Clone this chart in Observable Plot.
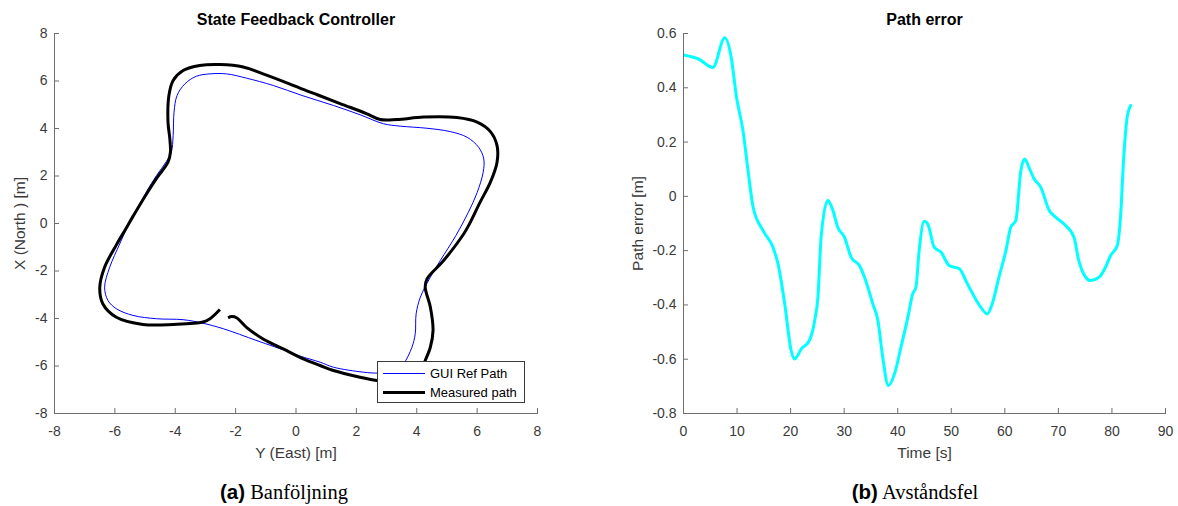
<!DOCTYPE html>
<html><head><meta charset="utf-8">
<script src="https://cdn.jsdelivr.net/npm/d3@7"></script>
<script src="https://cdn.jsdelivr.net/npm/@observablehq/plot@0.6"></script>
<style>
body{margin:0;background:#fff;}
#wrap{position:relative;width:1178px;height:506px;overflow:hidden;font-family:"Liberation Sans",Arial,sans-serif;}
.panel{position:absolute;top:0;}
.cap{position:absolute;top:482px;line-height:1;font-size:20.5px;text-align:center;font-family:"Liberation Serif","Times New Roman",serif;color:#000;white-space:nowrap;}
.cap b{font-family:"Liberation Sans",Arial,sans-serif;font-weight:bold;}
#legend{position:absolute;left:377px;top:361px;width:146px;height:40px;border:1px solid #3a3a3a;background:#fff;}
.sw{position:absolute;left:5px;width:42px;}
.lt{position:absolute;left:52px;font-size:13px;line-height:1;color:#000;white-space:nowrap;}
</style>
</head><body>
<div id="wrap">
  <div id="left" class="panel" style="left:0"></div>
  <div id="right" class="panel" style="left:590px"></div>
  <div id="legend">
    <div class="sw" style="top:11px;height:1px;background:#0000ff"></div>
    <div class="lt" style="top:5px">GUI Ref Path</div>
    <div class="sw" style="top:29px;height:3px;background:#000"></div>
    <div class="lt" style="top:24px">Measured path</div>
  </div>
  <div class="cap" style="left:0;width:568px"><b>(a)</b> Banföljning</div>
  <div class="cap" style="left:652px;width:526px"><b>(b)</b> Avståndsfel</div>
</div>
<script>
// GUI reference path (East, North) [m]
const refEast  = [-2.41,-1.3,-0.2,0.13,0.8,1.24,2.23,2.73,3.23,3.56,3.84,3.95,3.98,4.12,4.45,4.78,5.3,5.7,6.0,6.2,6.22,6.05,5.67,5.11,4.34,3.45,2.9,2.12,1.24,0.2,-0.75,-1.64,-2.3,-2.85,-3.3,-3.68,-3.94,-4.04,-4.07,-4.13,-4.3,-4.62,-4.96,-5.4,-5.51,-5.84,-6.17,-6.34,-6.23,-5.95,-5.4,-4.62,-3.74,-3.08];
const refNorth = [-4.43,-4.93,-5.42,-5.58,-5.84,-6.05,-6.26,-6.3,-6.26,-5.91,-5.21,-4.64,-3.8,-3.1,-2.26,-1.56,-0.5,0.45,1.3,2.16,2.72,3.21,3.63,3.87,4.01,4.1,4.2,4.58,4.97,5.39,5.81,6.12,6.3,6.3,6.2,5.88,5.39,4.69,3.7,3.0,2.6,2.02,1.32,0.27,0.05,-0.86,-1.84,-2.68,-3.24,-3.59,-3.87,-4.01,-4.05,-4.2];
// Measured path (East, North) [m]
const measEast  = [-2.25,-2.13,-1.97,-1.64,-1.09,-0.42,0.24,0.8,1.24,2.12,2.68,3.2,3.7,4.1,4.28,4.45,4.54,4.45,4.28,4.34,4.89,5.56,5.72,6.1,6.44,6.66,6.66,6.44,6.0,5.33,4.23,3.34,2.79,2.35,1.46,0.75,0.13,-0.2,-1.09,-1.75,-2.52,-3.19,-3.74,-4.07,-4.21,-4.24,-4.18,-4.16,-4.24,-4.62,-5.0,-5.4,-5.65,-5.95,-6.34,-6.5,-6.4,-5.95,-5.07,-4.07,-3.08,-2.85,-2.52];
const measNorth = [-3.97,-3.92,-3.97,-4.37,-4.86,-5.28,-5.7,-5.98,-6.19,-6.47,-6.61,-6.68,-6.6,-6.3,-5.77,-5.21,-4.5,-3.52,-2.68,-2.33,-1.56,-0.43,-0.08,0.9,1.74,2.58,3.28,3.87,4.27,4.46,4.48,4.38,4.38,4.62,5.05,5.4,5.7,5.87,6.3,6.59,6.69,6.65,6.44,6.02,5.39,4.27,3.57,3.0,2.58,1.9,1.15,0.3,-0.25,-0.9,-1.84,-2.68,-3.38,-3.95,-4.25,-4.25,-4.15,-4.01,-3.62];
// Path error over time
const timeS   = [0.25,2.7,5.5,7.7,8.9,9.9,11.1,12.05,13.0,14.85,16.7,17.65,18.9,20.1,20.75,22,23.5,24.5,25.1,25.7,26.95,27.9,28.8,30.05,31.3,32.85,33.8,35.35,36.3,37.2,38.25,39.4,40.6,41.9,42.8,43.4,44.0,44.95,45.6,46.8,48.1,49.6,51.5,53.0,55.5,56.7,57.65,58.9,60.2,61.1,62.05,63.0,63.7,64.5,65.45,66.7,68.3,69.5,71.0,72.9,73.8,75.1,76.0,77.6,78.8,79.75,81.0,81.6,82.2,82.85,83.5];
const pathErr = [0.52,0.507,0.475,0.584,0.513,0.365,0.243,0.095,-0.04,-0.126,-0.187,-0.249,-0.396,-0.568,-0.599,-0.562,-0.531,-0.457,-0.372,-0.15,-0.015,-0.052,-0.114,-0.15,-0.224,-0.255,-0.298,-0.396,-0.457,-0.593,-0.697,-0.654,-0.556,-0.445,-0.359,-0.335,-0.2,-0.092,-0.101,-0.187,-0.206,-0.255,-0.267,-0.322,-0.408,-0.433,-0.396,-0.298,-0.2,-0.114,-0.089,0.095,0.138,0.107,0.065,0.034,-0.052,-0.077,-0.101,-0.15,-0.236,-0.298,-0.31,-0.298,-0.261,-0.218,-0.181,-0.077,0.144,0.292,0.335];
// Ticks
const posTicks  = [-8,-6,-4,-2,0,2,4,6,8];
const timeTicks = [0,10,20,30,40,50,60,70,80,90];
const errTicks  = [-0.8,-0.6,-0.4,-0.2,0,0.2,0.4,0.6];

const ref  = refEast.map((e,i)=>({e, n: refNorth[i]}));
const meas = measEast.map((e,i)=>({e, n: measNorth[i]}));
const err  = timeS.map((t,i)=>({t, v: pathErr[i]}));

const axisColor = "#6f6f6f", textColor = "#3a3a3a";
const fmt = d => String(+(+d).toFixed(1));

function frameAxes(xt, yt, title, xLabel, yLabel, yLabelDx) {
  return [
    Plot.frame({anchor:"left", stroke:axisColor}),
    Plot.frame({anchor:"bottom", stroke:axisColor}),
    Plot.axisX({ticks:xt, tickSize:5, dy:-5, stroke:axisColor, tickFormat:()=>"", label:null}),
    Plot.axisY({ticks:yt, tickSize:5, dx:5, stroke:axisColor, tickFormat:()=>"", label:null}),
    Plot.axisX({ticks:xt, tickSize:0, tickPadding:13, fill:textColor, fontSize:14, tickFormat:fmt, label:null}),
    Plot.axisY({ticks:yt, tickSize:0, tickPadding:7, fill:textColor, fontSize:14, tickFormat:fmt, label:null}),
    Plot.text([title], {text:d=>d, frameAnchor:"top", dy:-14, lineAnchor:"middle", textAnchor:"middle", fontWeight:"bold", fontSize:16, fill:"#000"}),
    Plot.text([xLabel], {text:d=>d, frameAnchor:"bottom", dy:40, lineAnchor:"middle", textAnchor:"middle", fontSize:15.5, fill:textColor}),
    Plot.text([yLabel], {text:d=>d, frameAnchor:"left", dx:yLabelDx, lineAnchor:"middle", textAnchor:"middle", rotate:-90, fontSize:15.5, fill:textColor})
  ];
}

const style = {fontFamily:"Liberation Sans, Arial, sans-serif", fontSize:"14px", background:"transparent", overflow:"visible"};

const left = Plot.plot({
  width:590, height:506, marginTop:33, marginBottom:93, marginLeft:54, marginRight:53,
  style,
  x:{domain:[-8,8]}, y:{domain:[-8,8]},
  marks:[
    Plot.line(ref, {x:"e", y:"n", stroke:"#0000ff", strokeWidth:1, curve:"catmull-rom-closed"}),
    Plot.line(meas, {x:"e", y:"n", stroke:"#000", strokeWidth:3, curve:"catmull-rom", strokeLinejoin:"round", strokeLinecap:"butt"}),
    ...frameAxes(posTicks, posTicks, "State Feedback Controller", "Y (East) [m]", "X (North ) [m]", -34)
  ]
});
document.getElementById("left").appendChild(left);

const right = Plot.plot({
  width:588, height:506, marginTop:33, marginBottom:93, marginLeft:93, marginRight:13,
  style,
  x:{domain:[0,90]}, y:{domain:[-0.8,0.6]},
  marks:[
    Plot.line(err, {x:"t", y:"v", stroke:"#00ffff", strokeWidth:3, curve:"monotone-x", strokeLinejoin:"round"}),
    ...frameAxes(timeTicks, errTicks, "Path error", "Time [s]", "Path error [m]", -45)
  ]
});
document.getElementById("right").appendChild(right);
</script>
</body></html>
